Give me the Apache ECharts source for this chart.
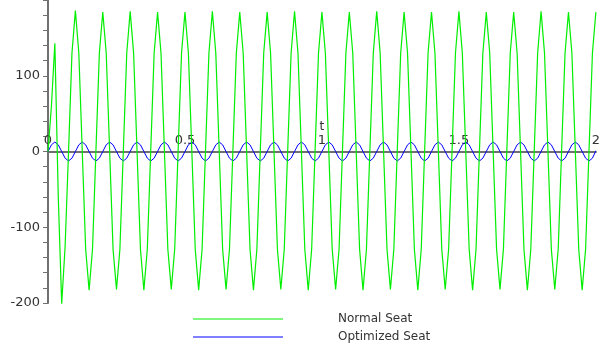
<!DOCTYPE html>
<html><head><meta charset="utf-8">
<script src="https://cdn.jsdelivr.net/npm/echarts@6/dist/echarts.min.js"></script>
<style>html,body{margin:0;padding:0;background:#fff}#c{width:603px;height:349px}</style>
</head><body><div id="c"></div>
<script>
// sample spacing (s) of the readings below, starting at t = 0
const timeStep = 0.0125;
const seriesNames = ['Normal Seat', 'Optimized Seat'];
const normalSeat = [
  0, 60, 143, -60, -201, -125, 0, 130, 186,
  130, 1, -129, -183, -129, 1, 130, 184,
  130, 1, -129, -182, -129, 1, 130, 185,
  130, 1, -129, -183, -129, 1, 130, 184,
  130, 1, -129, -182, -129, 1, 130, 184,
  130, 1, -129, -183, -129, 1, 130, 185,
  130, 1, -129, -182, -129, 1, 130, 184,
  130, 1, -129, -183, -129, 1, 130, 184,
  130, 1, -129, -182, -129, 1, 130, 185,
  130, 1, -129, -183, -129, 1, 130, 184,
  130, 1, -129, -182, -129, 1, 130, 184,
  130, 1, -129, -183, -129, 1, 130, 185,
  130, 1, -129, -182, -129, 1, 130, 184,
  130, 1, -129, -183, -129, 1, 130, 184,
  130, 1, -129, -182, -129, 1, 130, 185,
  130, 1, -129, -183, -129, 1, 130, 184,
  130, 1, -129, -182, -129, 1, 130, 184,
  130, 1, -129, -183, -129, 1, 130, 185,
  130, 1, -129, -182, -129, 1, 130, 184,
  130, 1, -129, -183, -129, 1, 130, 184
];
const optimizedSeat = [
  0, 8.8, 12.5, 8.8, 0, -8.8, -12.5, -8.8,
  0, 8.8, 12.5, 8.8, 0, -8.8, -12.5, -8.8,
  0, 8.8, 12.5, 8.8, 0, -8.8, -12.5, -8.8,
  0, 8.8, 12.5, 8.8, 0, -8.8, -12.5, -8.8,
  0, 8.8, 12.5, 8.8, 0, -8.8, -12.5, -8.8,
  0, 8.8, 12.5, 8.8, 0, -8.8, -12.5, -8.8,
  0, 8.8, 12.5, 8.8, 0, -8.8, -12.5, -8.8,
  0, 8.8, 12.5, 8.8, 0, -8.8, -12.5, -8.8,
  0, 8.8, 12.5, 8.8, 0, -8.8, -12.5, -8.8,
  0, 8.8, 12.5, 8.8, 0, -8.8, -12.5, -8.8,
  0, 8.8, 12.5, 8.8, 0, -8.8, -12.5, -8.8,
  0, 8.8, 12.5, 8.8, 0, -8.8, -12.5, -8.8,
  0, 8.8, 12.5, 8.8, 0, -8.8, -12.5, -8.8,
  0, 8.8, 12.5, 8.8, 0, -8.8, -12.5, -8.8,
  0, 8.8, 12.5, 8.8, 0, -8.8, -12.5, -8.8,
  0, 8.8, 12.5, 8.8, 0, -8.8, -12.5, -8.8,
  0, 8.8, 12.5, 8.8, 0, -8.8, -12.5, -8.8,
  0, 8.8, 12.5, 8.8, 0, -8.8, -12.5, -8.8,
  0, 8.8, 12.5, 8.8, 0, -8.8, -12.5, -8.8,
  0, 8.8, 12.5, 8.8, 0, -8.8, -12.5, -8.8,
  1
];
const xTickLabels = ['0', '0.5', '1', '1.5', '2'];
const yTickLabels = ['-200', '-100', '0', '100'];
const xName = 't';

const toPairs = vals => vals.map((v, i) => [i * timeStep, v]);
const FONT = 'DejaVu Sans';
const AX = '#707070';
const PLOT_H = 303;

const chart = echarts.init(document.getElementById('c'), null, {renderer: 'canvas'});
chart.setOption({
  animation: false,
  backgroundColor: '#ffffff',
  grid: {left: 48, right: 7, top: 0, height: PLOT_H},
  xAxis: {
    type: 'value', min: 0, max: 2, interval: 0.5,
    position: 'bottom', offset: -PLOT_H / 2,
    name: xName, nameLocation: 'middle', nameGap: -31, nameMoveOverlap: false,
    nameTextStyle: {color: '#333', fontFamily: FONT, fontSize: 12},
    axisLine: {onZero: false, lineStyle: {color: AX, width: 2}},
    axisTick: {show: false},
    splitLine: {show: false},
    axisLabel: {
      inside: true, margin: 4, color: '#333', fontFamily: FONT, fontSize: 13,
      formatter: v => { const s = String(v); return xTickLabels.indexOf(s) >= 0 ? s : ''; }
    }
  },
  yAxis: {
    type: 'value', min: -200, max: 200, interval: 100,
    axisLine: {show: true, onZero: false, lineStyle: {color: AX, width: 2}},
    axisTick: {show: true, length: 5, lineStyle: {color: AX}},
    minorTick: {show: true, splitNumber: 5, length: 5, lineStyle: {color: AX}},
    splitLine: {show: false},
    axisLabel: {
      margin: 8, color: '#333', fontFamily: FONT, fontSize: 13,
      formatter: v => { const s = String(v); return yTickLabels.indexOf(s) >= 0 ? s : ''; }
    }
  },
  legend: {
    orient: 'vertical', left: 193, top: 312, padding: 0,
    itemWidth: 90, itemHeight: 1, itemGap: 4, icon: 'rect',
    textStyle: {color: '#333', fontFamily: FONT, fontSize: 12, lineHeight: 14, padding: [0, 0, 0, 50]},
    data: seriesNames
  },
  series: [
    {name: seriesNames[0], type: 'line', data: toPairs(normalSeat), symbol: 'none', showSymbol: false,
     clip: false, z: 3, color: '#00ee00', lineStyle: {color: '#00ee00', width: 1.2}},
    {name: seriesNames[1], type: 'line', data: toPairs(optimizedSeat), symbol: 'none', showSymbol: false,
     clip: false, z: 2, color: '#0000ff', lineStyle: {color: '#0000ff', width: 1}}
  ]
});
</script>
</body></html>
